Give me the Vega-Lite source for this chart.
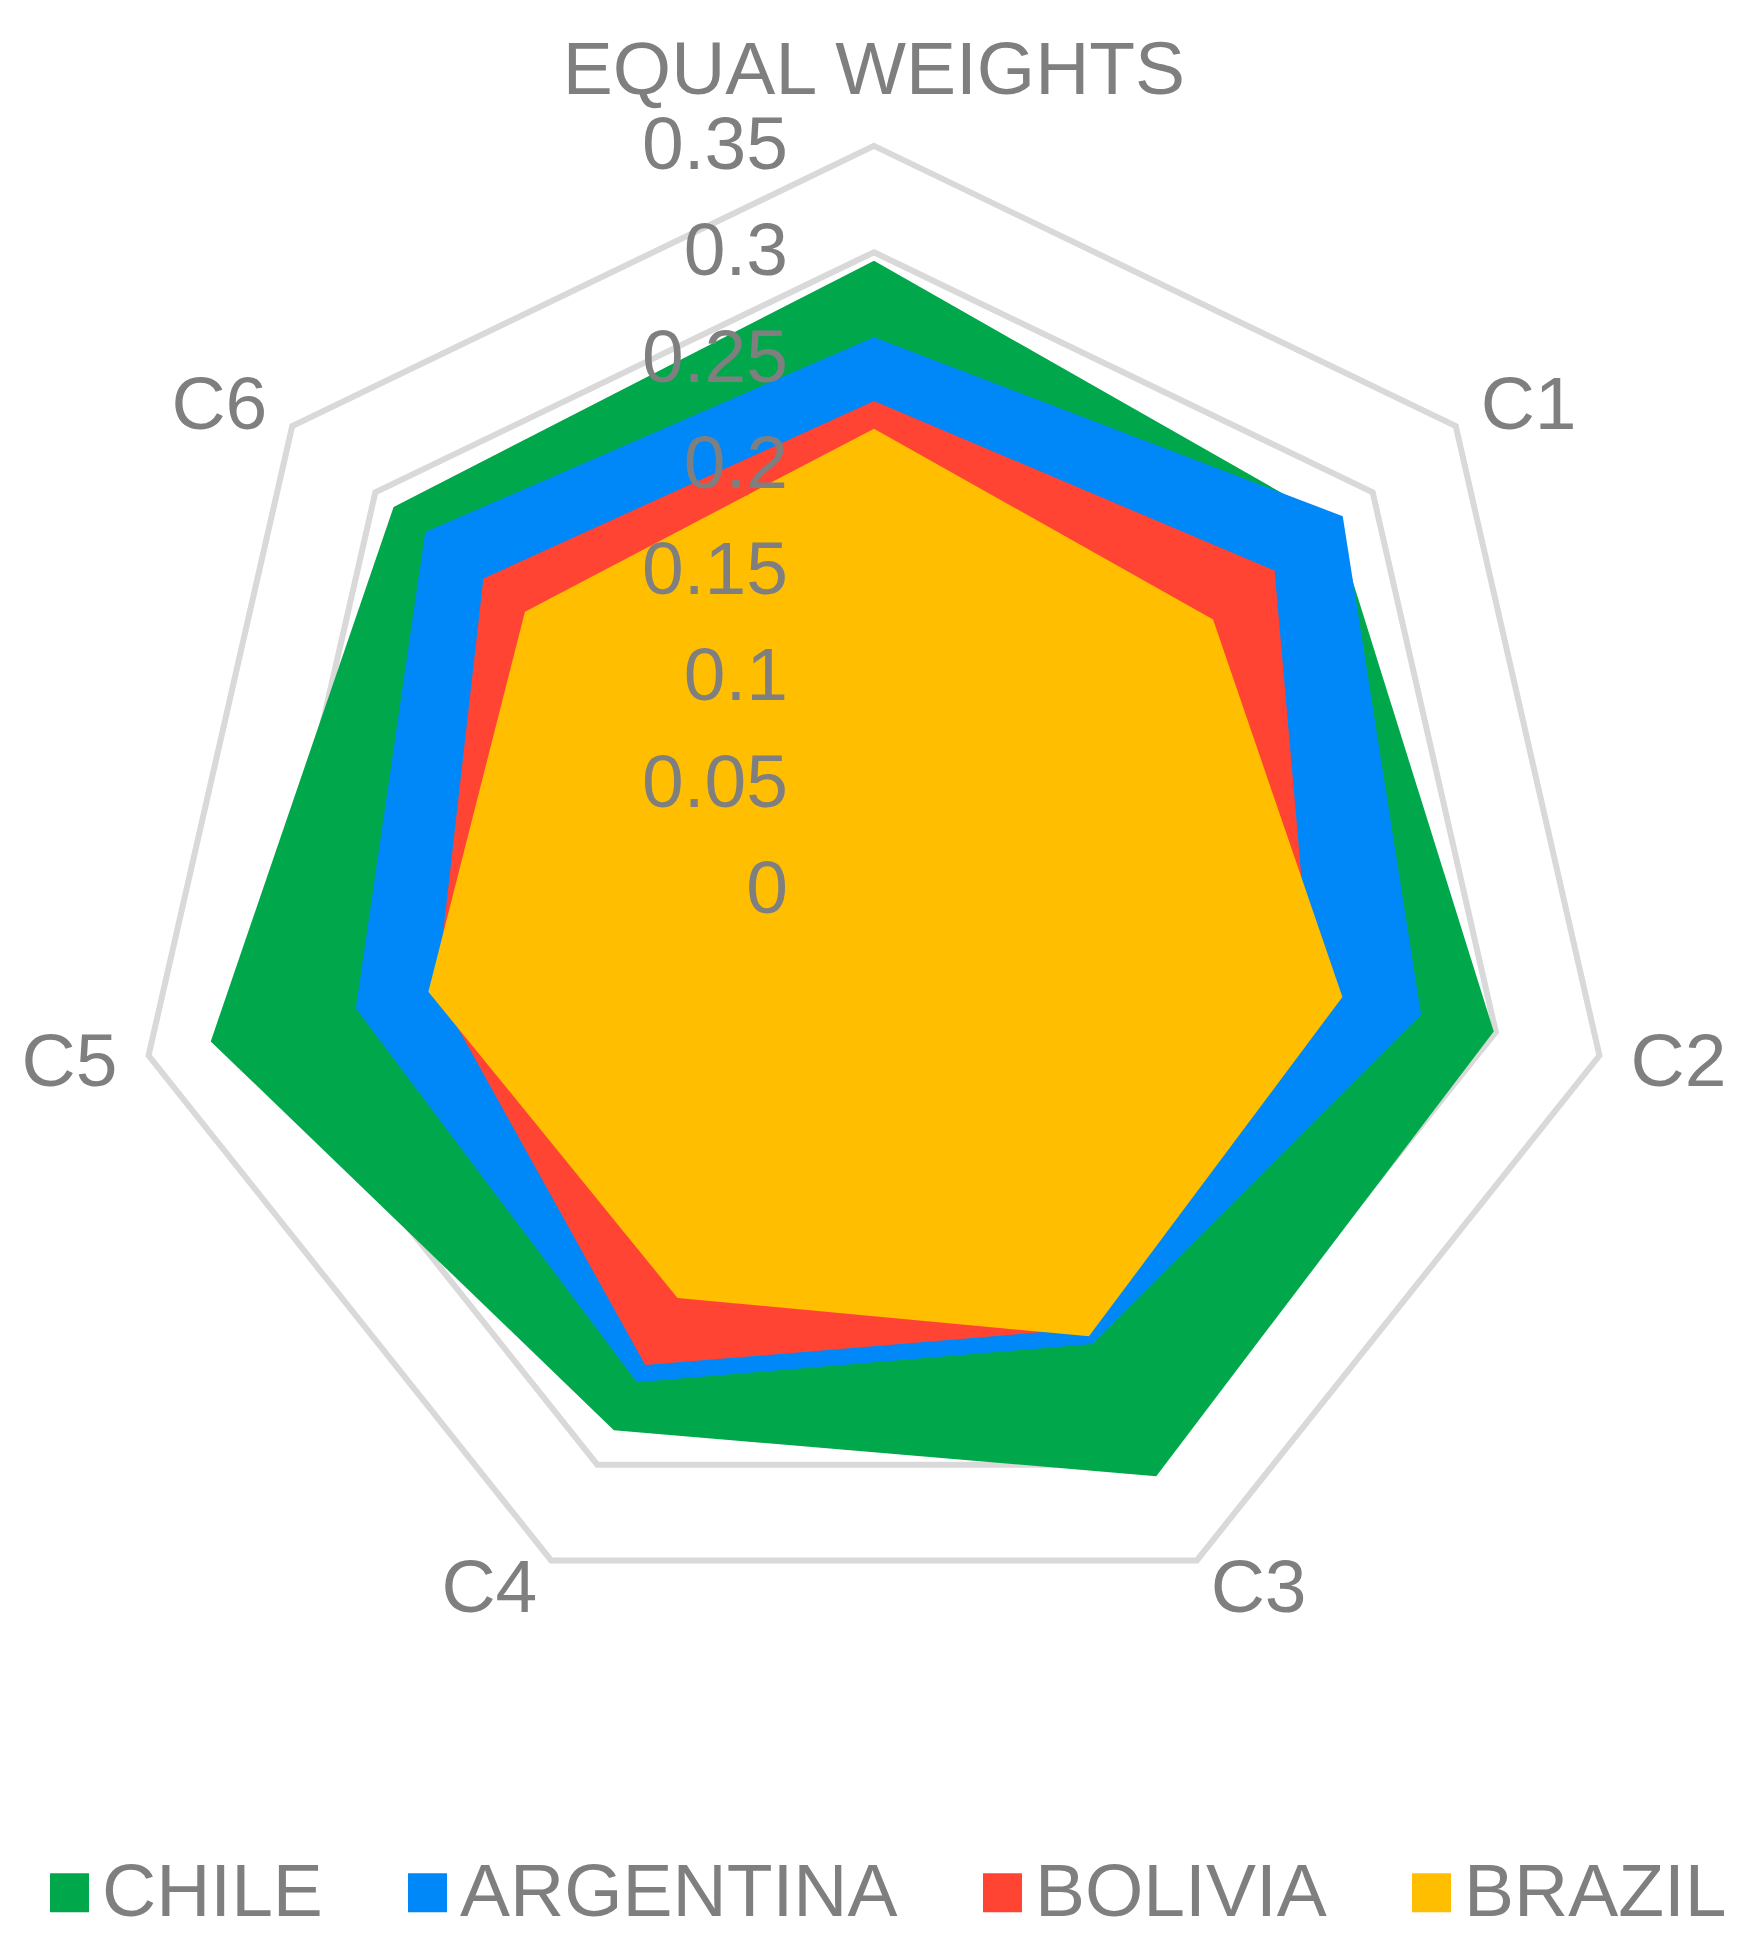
{
  "$schema": "https://vega.github.io/schema/vega-lite/v6.json",
  "width": 1760,
  "height": 1951,
  "autosize": {"type": "none"},
  "padding": 0,
  "background": "white",
  "config": {"view": {"stroke": null}, "font": "Liberation Sans"},
  "datasets": {
    "scores": [
      {"country": "CHILE", "cat": "EQUAL WEIGHTS", "value": 0.296},
      {"country": "CHILE", "cat": "C1", "value": 0.277},
      {"country": "CHILE", "cat": "C2", "value": 0.299},
      {"country": "CHILE", "cat": "C3", "value": 0.306},
      {"country": "CHILE", "cat": "C4", "value": 0.282},
      {"country": "CHILE", "cat": "C5", "value": 0.320},
      {"country": "CHILE", "cat": "C6", "value": 0.289},
      {"country": "ARGENTINA", "cat": "EQUAL WEIGHTS", "value": 0.260},
      {"country": "ARGENTINA", "cat": "C1", "value": 0.282},
      {"country": "ARGENTINA", "cat": "C2", "value": 0.264},
      {"country": "ARGENTINA", "cat": "C3", "value": 0.237},
      {"country": "ARGENTINA", "cat": "C4", "value": 0.257},
      {"country": "ARGENTINA", "cat": "C5", "value": 0.250},
      {"country": "ARGENTINA", "cat": "C6", "value": 0.270},
      {"country": "BOLIVIA", "cat": "EQUAL WEIGHTS", "value": 0.230},
      {"country": "BOLIVIA", "cat": "C1", "value": 0.241},
      {"country": "BOLIVIA", "cat": "C2", "value": 0.211},
      {"country": "BOLIVIA", "cat": "C3", "value": 0.229},
      {"country": "BOLIVIA", "cat": "C4", "value": 0.248},
      {"country": "BOLIVIA", "cat": "C5", "value": 0.211},
      {"country": "BOLIVIA", "cat": "C6", "value": 0.235},
      {"country": "BRAZIL", "cat": "EQUAL WEIGHTS", "value": 0.217},
      {"country": "BRAZIL", "cat": "C1", "value": 0.204},
      {"country": "BRAZIL", "cat": "C2", "value": 0.226},
      {"country": "BRAZIL", "cat": "C3", "value": 0.233},
      {"country": "BRAZIL", "cat": "C4", "value": 0.213},
      {"country": "BRAZIL", "cat": "C5", "value": 0.215},
      {"country": "BRAZIL", "cat": "C6", "value": 0.210}
    ],
    "grid": [
      {"level": 0.05, "cat": ["EQUAL WEIGHTS", "C1", "C2", "C3", "C4", "C5", "C6"]},
      {"level": 0.1, "cat": ["EQUAL WEIGHTS", "C1", "C2", "C3", "C4", "C5", "C6"]},
      {"level": 0.15, "cat": ["EQUAL WEIGHTS", "C1", "C2", "C3", "C4", "C5", "C6"]},
      {"level": 0.2, "cat": ["EQUAL WEIGHTS", "C1", "C2", "C3", "C4", "C5", "C6"]},
      {"level": 0.25, "cat": ["EQUAL WEIGHTS", "C1", "C2", "C3", "C4", "C5", "C6"]},
      {"level": 0.3, "cat": ["EQUAL WEIGHTS", "C1", "C2", "C3", "C4", "C5", "C6"]},
      {"level": 0.35, "cat": ["EQUAL WEIGHTS", "C1", "C2", "C3", "C4", "C5", "C6"]}
    ],
    "ticks": [
      {"v": 0, "label": "0"},
      {"v": 0.05, "label": "0.05"},
      {"v": 0.1, "label": "0.1"},
      {"v": 0.15, "label": "0.15"},
      {"v": 0.2, "label": "0.2"},
      {"v": 0.25, "label": "0.25"},
      {"v": 0.3, "label": "0.3"},
      {"v": 0.35, "label": "0.35"}
    ],
    "cats": [
      {"cat": "EQUAL WEIGHTS"},
      {"cat": "C1"},
      {"cat": "C2"},
      {"cat": "C3"},
      {"cat": "C4"},
      {"cat": "C5"},
      {"cat": "C6"}
    ]
  },
  "layer": [
    {
      "data": {"name": "grid"},
      "transform": [
        {"flatten": ["cat"]},
        {"calculate": "indexof(['EQUAL WEIGHTS','C1','C2','C3','C4','C5','C6'], datum.cat)", "as": "idx"},
        {"calculate": "datum.level * sin(datum.idx * 2 * PI / 7)", "as": "px"},
        {"calculate": "datum.level * cos(datum.idx * 2 * PI / 7)", "as": "py"}
      ],
      "mark": {"type": "line", "interpolate": "linear-closed", "stroke": "#D9D9D9", "strokeWidth": 6, "strokeJoin": "miter"},
      "encoding": {
        "x": {"field": "px", "type": "quantitative", "scale": {"domain": [-0.4111, 0.41675], "nice": false, "zero": false}, "axis": null},
        "y": {"field": "py", "type": "quantitative", "scale": {"domain": [-0.49906, 0.41863], "nice": false, "zero": false}, "axis": null},
        "detail": {"field": "level", "type": "nominal"},
        "order": {"field": "idx", "type": "quantitative"}
      }
    },
    {
      "data": {"name": "scores"},
      "transform": [
        {"filter": "datum.country === 'CHILE'"},
        {"calculate": "indexof(['EQUAL WEIGHTS','C1','C2','C3','C4','C5','C6'], datum.cat)", "as": "idx"},
        {"calculate": "datum.value * sin(datum.idx * 2 * PI / 7)", "as": "px"},
        {"calculate": "datum.value * cos(datum.idx * 2 * PI / 7)", "as": "py"}
      ],
      "mark": {"type": "line", "interpolate": "linear-closed", "filled": true, "strokeWidth": 0},
      "encoding": {
        "x": {"field": "px", "type": "quantitative", "scale": {"domain": [-0.4111, 0.41675], "nice": false, "zero": false}, "axis": null},
        "y": {"field": "py", "type": "quantitative", "scale": {"domain": [-0.49906, 0.41863], "nice": false, "zero": false}, "axis": null},
        "order": {"field": "idx", "type": "quantitative"},
        "color": {
          "field": "country", "type": "nominal",
          "scale": {"domain": ["CHILE", "ARGENTINA", "BOLIVIA", "BRAZIL"], "range": ["#00A84B", "#0088F8", "#FF4433", "#FFBF00"]},
          "legend": {
            "orient": "none", "legendX": 32, "legendY": 1855, "direction": "horizontal", "title": null,
            "symbolType": "square", "symbolSize": 1521, "symbolStrokeWidth": 0,
            "labelFontSize": 75, "labelFont": "Liberation Sans", "labelColor": "#7F7F7F",
            "labelOffset": -5, "columnPadding": 67, "labelLimit": 1000, "padding": 0,
            "encode": {"symbols": {"update": {"fill": {"scale": "color", "field": "value"}, "stroke": {"value": "transparent"}, "opacity": {"value": 1}}}}
          }
        }
      }
    },
    {
      "data": {"name": "scores"},
      "transform": [
        {"filter": "datum.country === 'ARGENTINA'"},
        {"calculate": "indexof(['EQUAL WEIGHTS','C1','C2','C3','C4','C5','C6'], datum.cat)", "as": "idx"},
        {"calculate": "datum.value * sin(datum.idx * 2 * PI / 7)", "as": "px"},
        {"calculate": "datum.value * cos(datum.idx * 2 * PI / 7)", "as": "py"}
      ],
      "mark": {"type": "line", "interpolate": "linear-closed", "filled": true, "strokeWidth": 0},
      "encoding": {
        "x": {"field": "px", "type": "quantitative", "scale": {"domain": [-0.4111, 0.41675], "nice": false, "zero": false}, "axis": null},
        "y": {"field": "py", "type": "quantitative", "scale": {"domain": [-0.49906, 0.41863], "nice": false, "zero": false}, "axis": null},
        "order": {"field": "idx", "type": "quantitative"},
        "color": {"field": "country", "type": "nominal"}
      }
    },
    {
      "data": {"name": "scores"},
      "transform": [
        {"filter": "datum.country === 'BOLIVIA'"},
        {"calculate": "indexof(['EQUAL WEIGHTS','C1','C2','C3','C4','C5','C6'], datum.cat)", "as": "idx"},
        {"calculate": "datum.value * sin(datum.idx * 2 * PI / 7)", "as": "px"},
        {"calculate": "datum.value * cos(datum.idx * 2 * PI / 7)", "as": "py"}
      ],
      "mark": {"type": "line", "interpolate": "linear-closed", "filled": true, "strokeWidth": 0},
      "encoding": {
        "x": {"field": "px", "type": "quantitative", "scale": {"domain": [-0.4111, 0.41675], "nice": false, "zero": false}, "axis": null},
        "y": {"field": "py", "type": "quantitative", "scale": {"domain": [-0.49906, 0.41863], "nice": false, "zero": false}, "axis": null},
        "order": {"field": "idx", "type": "quantitative"},
        "color": {"field": "country", "type": "nominal"}
      }
    },
    {
      "data": {"name": "scores"},
      "transform": [
        {"filter": "datum.country === 'BRAZIL'"},
        {"calculate": "indexof(['EQUAL WEIGHTS','C1','C2','C3','C4','C5','C6'], datum.cat)", "as": "idx"},
        {"calculate": "datum.value * sin(datum.idx * 2 * PI / 7)", "as": "px"},
        {"calculate": "datum.value * cos(datum.idx * 2 * PI / 7)", "as": "py"}
      ],
      "mark": {"type": "line", "interpolate": "linear-closed", "filled": true, "strokeWidth": 0},
      "encoding": {
        "x": {"field": "px", "type": "quantitative", "scale": {"domain": [-0.4111, 0.41675], "nice": false, "zero": false}, "axis": null},
        "y": {"field": "py", "type": "quantitative", "scale": {"domain": [-0.49906, 0.41863], "nice": false, "zero": false}, "axis": null},
        "order": {"field": "idx", "type": "quantitative"},
        "color": {"field": "country", "type": "nominal"}
      }
    },
    {
      "data": {"name": "ticks"},
      "mark": {"type": "text", "align": "right", "baseline": "middle", "dx": -86, "fontSize": 75, "font": "Liberation Sans", "color": "#7F7F7F"},
      "encoding": {
        "x": {"datum": 0, "type": "quantitative", "scale": {"domain": [-0.4111, 0.41675], "nice": false, "zero": false}, "axis": null},
        "y": {"field": "v", "type": "quantitative", "scale": {"domain": [-0.49906, 0.41863], "nice": false, "zero": false}, "axis": null},
        "text": {"field": "label", "type": "nominal"}
      }
    },
    {
      "data": {"name": "cats"},
      "transform": [
        {"calculate": "indexof(['EQUAL WEIGHTS','C1','C2','C3','C4','C5','C6'], datum.cat)", "as": "idx"},
        {"filter": "datum.idx >= 1 && datum.idx <= 3"},
        {"calculate": "0.365 * sin(datum.idx * 2 * PI / 7)", "as": "px"},
        {"calculate": "0.365 * cos(datum.idx * 2 * PI / 7)", "as": "py"}
      ],
      "mark": {"type": "text", "align": "left", "baseline": "middle", "fontSize": 75, "font": "Liberation Sans", "color": "#7F7F7F"},
      "encoding": {
        "x": {"field": "px", "type": "quantitative", "scale": {"domain": [-0.4111, 0.41675], "nice": false, "zero": false}, "axis": null},
        "y": {"field": "py", "type": "quantitative", "scale": {"domain": [-0.49906, 0.41863], "nice": false, "zero": false}, "axis": null},
        "text": {"field": "cat", "type": "nominal"}
      }
    },
    {
      "data": {"name": "cats"},
      "transform": [
        {"calculate": "indexof(['EQUAL WEIGHTS','C1','C2','C3','C4','C5','C6'], datum.cat)", "as": "idx"},
        {"filter": "datum.idx >= 4"},
        {"calculate": "0.365 * sin(datum.idx * 2 * PI / 7)", "as": "px"},
        {"calculate": "0.365 * cos(datum.idx * 2 * PI / 7)", "as": "py"}
      ],
      "mark": {"type": "text", "align": "right", "baseline": "middle", "fontSize": 75, "font": "Liberation Sans", "color": "#7F7F7F"},
      "encoding": {
        "x": {"field": "px", "type": "quantitative", "scale": {"domain": [-0.4111, 0.41675], "nice": false, "zero": false}, "axis": null},
        "y": {"field": "py", "type": "quantitative", "scale": {"domain": [-0.49906, 0.41863], "nice": false, "zero": false}, "axis": null},
        "text": {"field": "cat", "type": "nominal"}
      }
    },
    {
      "data": {"name": "cats"},
      "transform": [
        {"filter": "datum.cat === 'EQUAL WEIGHTS'"},
        {"calculate": "0", "as": "px"},
        {"calculate": "0.365", "as": "py"}
      ],
      "mark": {"type": "text", "align": "center", "baseline": "alphabetic", "dy": -20, "fontSize": 75, "font": "Liberation Sans", "color": "#7F7F7F"},
      "encoding": {
        "x": {"field": "px", "type": "quantitative", "scale": {"domain": [-0.4111, 0.41675], "nice": false, "zero": false}, "axis": null},
        "y": {"field": "py", "type": "quantitative", "scale": {"domain": [-0.49906, 0.41863], "nice": false, "zero": false}, "axis": null},
        "text": {"field": "cat", "type": "nominal"}
      }
    }
  ]
}
